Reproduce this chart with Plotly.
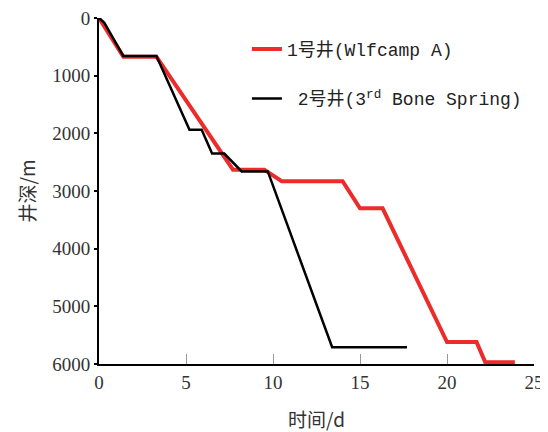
import plotly.graph_objects as go

# Well 1 (Wolfcamp A)
well1_days = [0, 1.4, 3.3, 7.7, 9.5, 10.5, 14.0, 15.0, 16.3, 20.0, 21.7, 22.2, 23.9]
well1_depth = [0, 670, 670, 2630, 2630, 2830, 2830, 3300, 3300, 5620, 5620, 5970, 5970]

# Well 2 (3rd Bone Spring)
well2_days = [0, 0.3, 1.4, 3.3, 5.2, 5.9, 6.5, 7.2, 8.2, 9.7, 13.4, 17.7]
well2_depth = [0, 80, 660, 660, 1940, 1940, 2350, 2350, 2660, 2660, 5710, 5710]

x_ticks = [0, 5, 10, 15, 20, 25]
y_ticks = [0, 1000, 2000, 3000, 4000, 5000, 6000]

SERIF = "Liberation Serif"

fig = go.Figure()
fig.add_trace(go.Scatter(
    x=well1_days, y=well1_depth, mode="lines",
    name="1号井(Wlfcamp A)", legendgroup="a",
    line=dict(color="#ec2b2b", width=4),
))
fig.add_trace(go.Scatter(
    x=well2_days, y=well2_depth, mode="lines",
    name=" 2号井(3<sup>rd</sup> Bone Spring)", legendgroup="b",
    line=dict(color="#000000", width=2.5),
))

fig.update_layout(
    width=548, height=432,
    margin=dict(l=91, r=22, t=10, b=76, autoexpand=False),
    paper_bgcolor="white", plot_bgcolor="white",
    showlegend=True,
    legend=dict(
        x=0.34, y=0.963, xanchor="left", yanchor="top",
        bgcolor="rgba(0,0,0,0)", borderwidth=0,
        traceorder="grouped", tracegroupgap=23,
        font=dict(family="Liberation Mono, Noto Sans CJK SC", size=18, color="#222"),
    ),
    xaxis=dict(
        range=[0, 25], tickvals=x_ticks, automargin=False,
        showgrid=False, zeroline=False, ticklabeloverflow="allow",
        showline=True, linecolor="black", linewidth=2,
        ticks="inside", ticklen=10, tickcolor="#999", tickwidth=1,
        tickfont=dict(family=SERIF, size=19, color="#333"),
        title=dict(text="时间/d", font=dict(family="Noto Sans CJK SC", size=19, color="#333"), standoff=22),
    ),
    yaxis=dict(
        range=[6000, 0], tickvals=y_ticks, automargin=False,
        showgrid=False, zeroline=False, ticklabeloverflow="allow",
        showline=True, linecolor="black", linewidth=2,
        ticks="outside", ticklen=3, tickcolor="black", tickwidth=2,
        tickfont=dict(family=SERIF, size=19, color="#333"),
        title=dict(text="井深/m", font=dict(family="Noto Sans CJK SC", size=19, color="#333"), standoff=12),
    ),
)

fig.write_html("out.html")
